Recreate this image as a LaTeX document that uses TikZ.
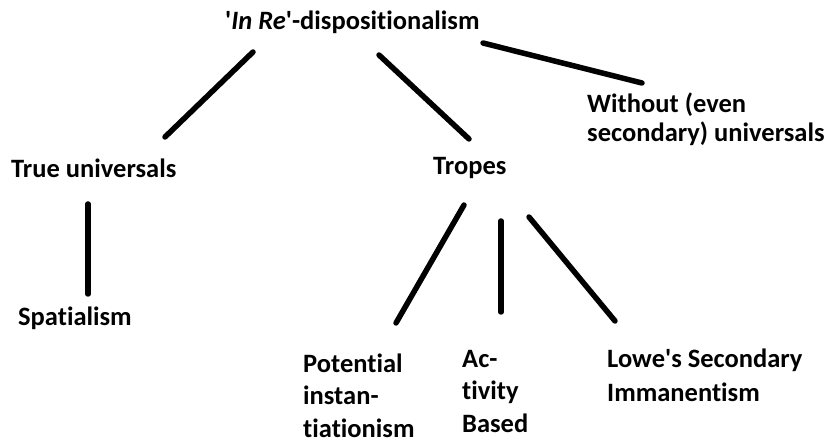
\documentclass[tikz,border=0pt]{standalone}
\usepackage{fontspec}
\setmainfont{Carlito}[Ligatures={TeX,NoCommon}]
\tikzset{
  lbl/.style={anchor=base west, inner sep=0pt, font=\bfseries\fontsize{26.5}{30}\selectfont, align=left},
  conn/.style={line width=5.5pt, line cap=round, black}
}
\begin{document}
\begin{tikzpicture}[x=1pt,y=-1pt]
\useasboundingbox (0,0) rectangle (825,446);
% texts (base anchor = baseline of the last line)
\node[lbl] (root) at (225,30) {\textquotesingle\textit{In Re}\textquotesingle-dispositionalism};
\node[lbl] (tu) at (11,178) {True universals};
\node[lbl] (tr) at (433,175) {Tropes};
\node[lbl, font=\bfseries\fontsize{26.5}{29}\selectfont] (wo) at (587,142) {Without (even\\secondary) universals};
\node[lbl] (sp) at (18,326) {Spatialism};
\node[lbl, font=\bfseries\fontsize{26.5}{32.5}\selectfont] (pi) at (303,437) {Potential\\instan-\\tiationism};
\node[lbl, font=\bfseries\fontsize{26.5}{32.5}\selectfont] (ab) at (462,432) {Ac-\\tivity\\Based};
\node[lbl, font=\bfseries\fontsize{26.5}{34}\selectfont] (lo) at (607,402) {Lowe\textquotesingle s Secondary\\Immanentism};
% connector ends
\coordinate (r1) at (253,52);  \coordinate (tu1) at (165,137);
\coordinate (r2) at (379,55);  \coordinate (tr1) at (469,139);
\coordinate (r3) at (483,43);  \coordinate (wo1) at (642,83);
\coordinate (tu2) at (88,204); \coordinate (sp1) at (88,294);
\coordinate (tr2) at (464,205); \coordinate (pi1) at (396,323);
\coordinate (tr3) at (501,221); \coordinate (ab1) at (501,312);
\coordinate (tr4) at (529,217); \coordinate (lo1) at (615,321);
\draw[conn] (r1) -- (tu1);
\draw[conn] (r2) -- (tr1);
\draw[conn] (r3) -- (wo1);
\draw[conn] (tu2) -- (sp1);
\draw[conn] (tr2) -- (pi1);
\draw[conn] (tr3) -- (ab1);
\draw[conn] (tr4) -- (lo1);
\end{tikzpicture}
\end{document}
